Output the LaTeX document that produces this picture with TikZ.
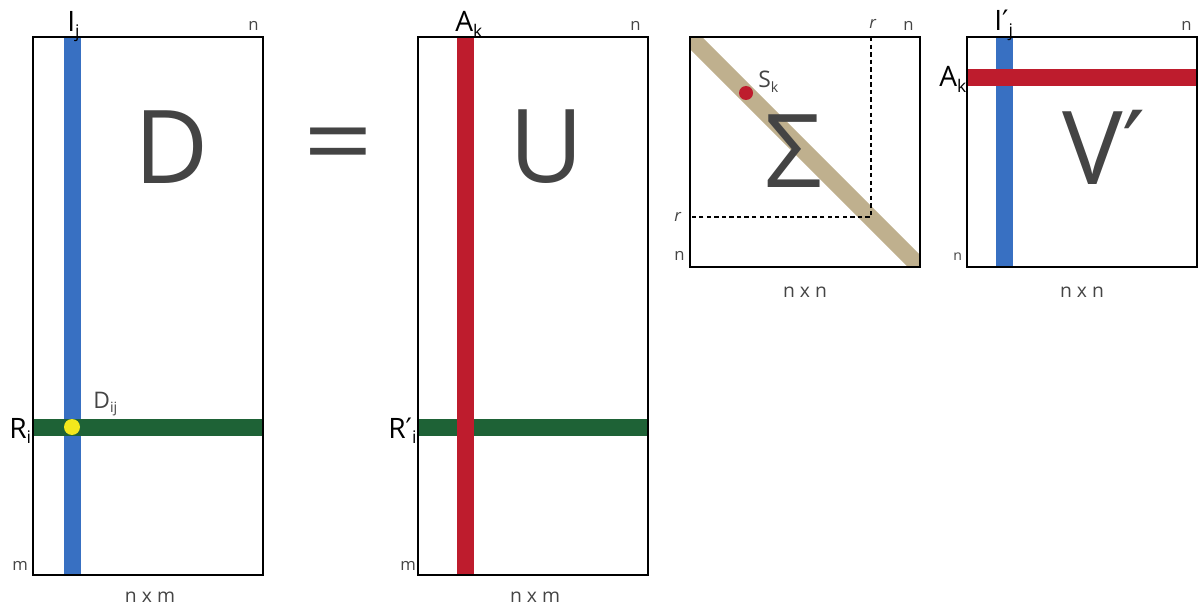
\documentclass[tikz,border=0pt]{standalone}
\usepackage{fontspec}
\setmainfont{Open Sans}
\newfontfamily\primefont{DejaVu Sans}
\usepackage{xcolor}
\usetikzlibrary{positioning}
\definecolor{ink}{HTML}{444444}
\definecolor{colblue}{HTML}{3870C2}
\definecolor{rowgreen}{HTML}{1E6236}
\definecolor{compred}{HTML}{BE1C2D}
\definecolor{diagtan}{HTML}{BFB08E}
\definecolor{dotyellow}{HTML}{F3E81C}
\newcommand{\prm}{{\primefont ′}}
\newcommand{\lsub}[1]{\raisebox{-0.35ex}{\scalebox{0.62}{#1}}}

\begin{document}
\begin{tikzpicture}[x=0.02cm,y=-0.02cm,
  frame/.style={draw=black,line width=0.8pt},
  bigsym/.style={text=ink,inner sep=0pt,font=\fontsize{58}{60}\selectfont},
  idx/.style={text=black,inner sep=0pt,anchor=base west,font=\fontsize{16}{18}\selectfont},
  dimn/.style={text=ink,inner sep=0pt,anchor=base west,font=\fontsize{9.5}{11}\selectfont},
  size/.style={text=ink,inner sep=0pt,anchor=base,font=\fontsize{11}{13}\selectfont},
  elem/.style={text=ink,inner sep=0pt,anchor=base west,font=\fontsize{13}{15}\selectfont}]
  \useasboundingbox (0,0) rectangle (1198,608);
  % D and U
  \fill[colblue] (64,37) rectangle (81,575);
  \foreach \x in {33,418} {
    \fill[rowgreen] (\x,419) rectangle ++(230,17);
  }
  \fill[compred] (457,37) rectangle (474,575);
  \fill[dotyellow] (72,427) circle (8);
  \foreach \x in {33,418} {
    \draw[frame] (\x,37) rectangle ++(230,538);
  }
  % Sigma
  \begin{scope}
    \clip (690,37) rectangle (920,267);
    \draw[diagtan,line width=9.7pt] (690,37) -- (920,267);
  \end{scope}
  \draw[dash pattern=on 2.5pt off 1.8pt,line width=0.6pt] (871,37) -- (871,217) -- (690,217);
  \fill[compred] (746,93) circle (7);
  % V'
  \fill[colblue] (996,37) rectangle (1013,267);
  \fill[compred] (967,69) rectangle (1197,86);
  \foreach \x in {690,967} {
    \draw[frame] (\x,37) rectangle ++(230,230);
  }

  \node[bigsym] (symD) at (172,147) {D};
  \node[bigsym,xscale=1.2] (symEq) at (338,153) {=};
  \node[bigsym] (symU) at (547,147) {U};
  \node[bigsym] (symS) at (793,151) {Σ};
  \node[bigsym] (symV) at (1104,147) {V\prm};

  \node[idx] (colD) at (67,32) {I\lsub{j}};
  \node[idx] (rowD) at (9,438) {R\lsub{i}};
  \node[idx] (colU) at (455,32) {A\lsub{k}};
  \node[idx] (rowU) at (388,438) {R\prm\lsub{i}};
  \node[idx] (colV) at (994,31) {I\prm\lsub{j}};
  \node[idx] (rowV) at (939,87) {A\lsub{k}};

  \node[elem] (elD) at (93,408) {D\lsub{ij}};
  \node[elem] (elS) at (758,88) {S\lsub{k}};

  \node[dimn] (nD) at (248,31) {n};
  \node[dimn] (mD) at (12,570) {m};
  \node[dimn] (nU) at (630,31) {n};
  \node[dimn] (mU) at (400,570) {m};
  \node[dimn] (nSt) at (903,31) {n};
  \node[dimn] (nSl) at (674,260) {n};
  \node[dimn] (rSt) at (869,29) {\itshape r};
  \node[dimn] (rSl) at (674,221) {\itshape r};
  \node[dimn] (nVt) at (1181,31) {n};
  \node[dimn,font=\fontsize{8}{9}\selectfont] (nVl) at (953,260) {n};

  \node[size] (szD) at (150,602) {n x m};
  \node[size] (szU) at (535,602) {n x m};
  \node[size] (szS) at (805,297) {n x n};
  \node[size] (szV) at (1082,297) {n x n};
\end{tikzpicture}
\end{document}
